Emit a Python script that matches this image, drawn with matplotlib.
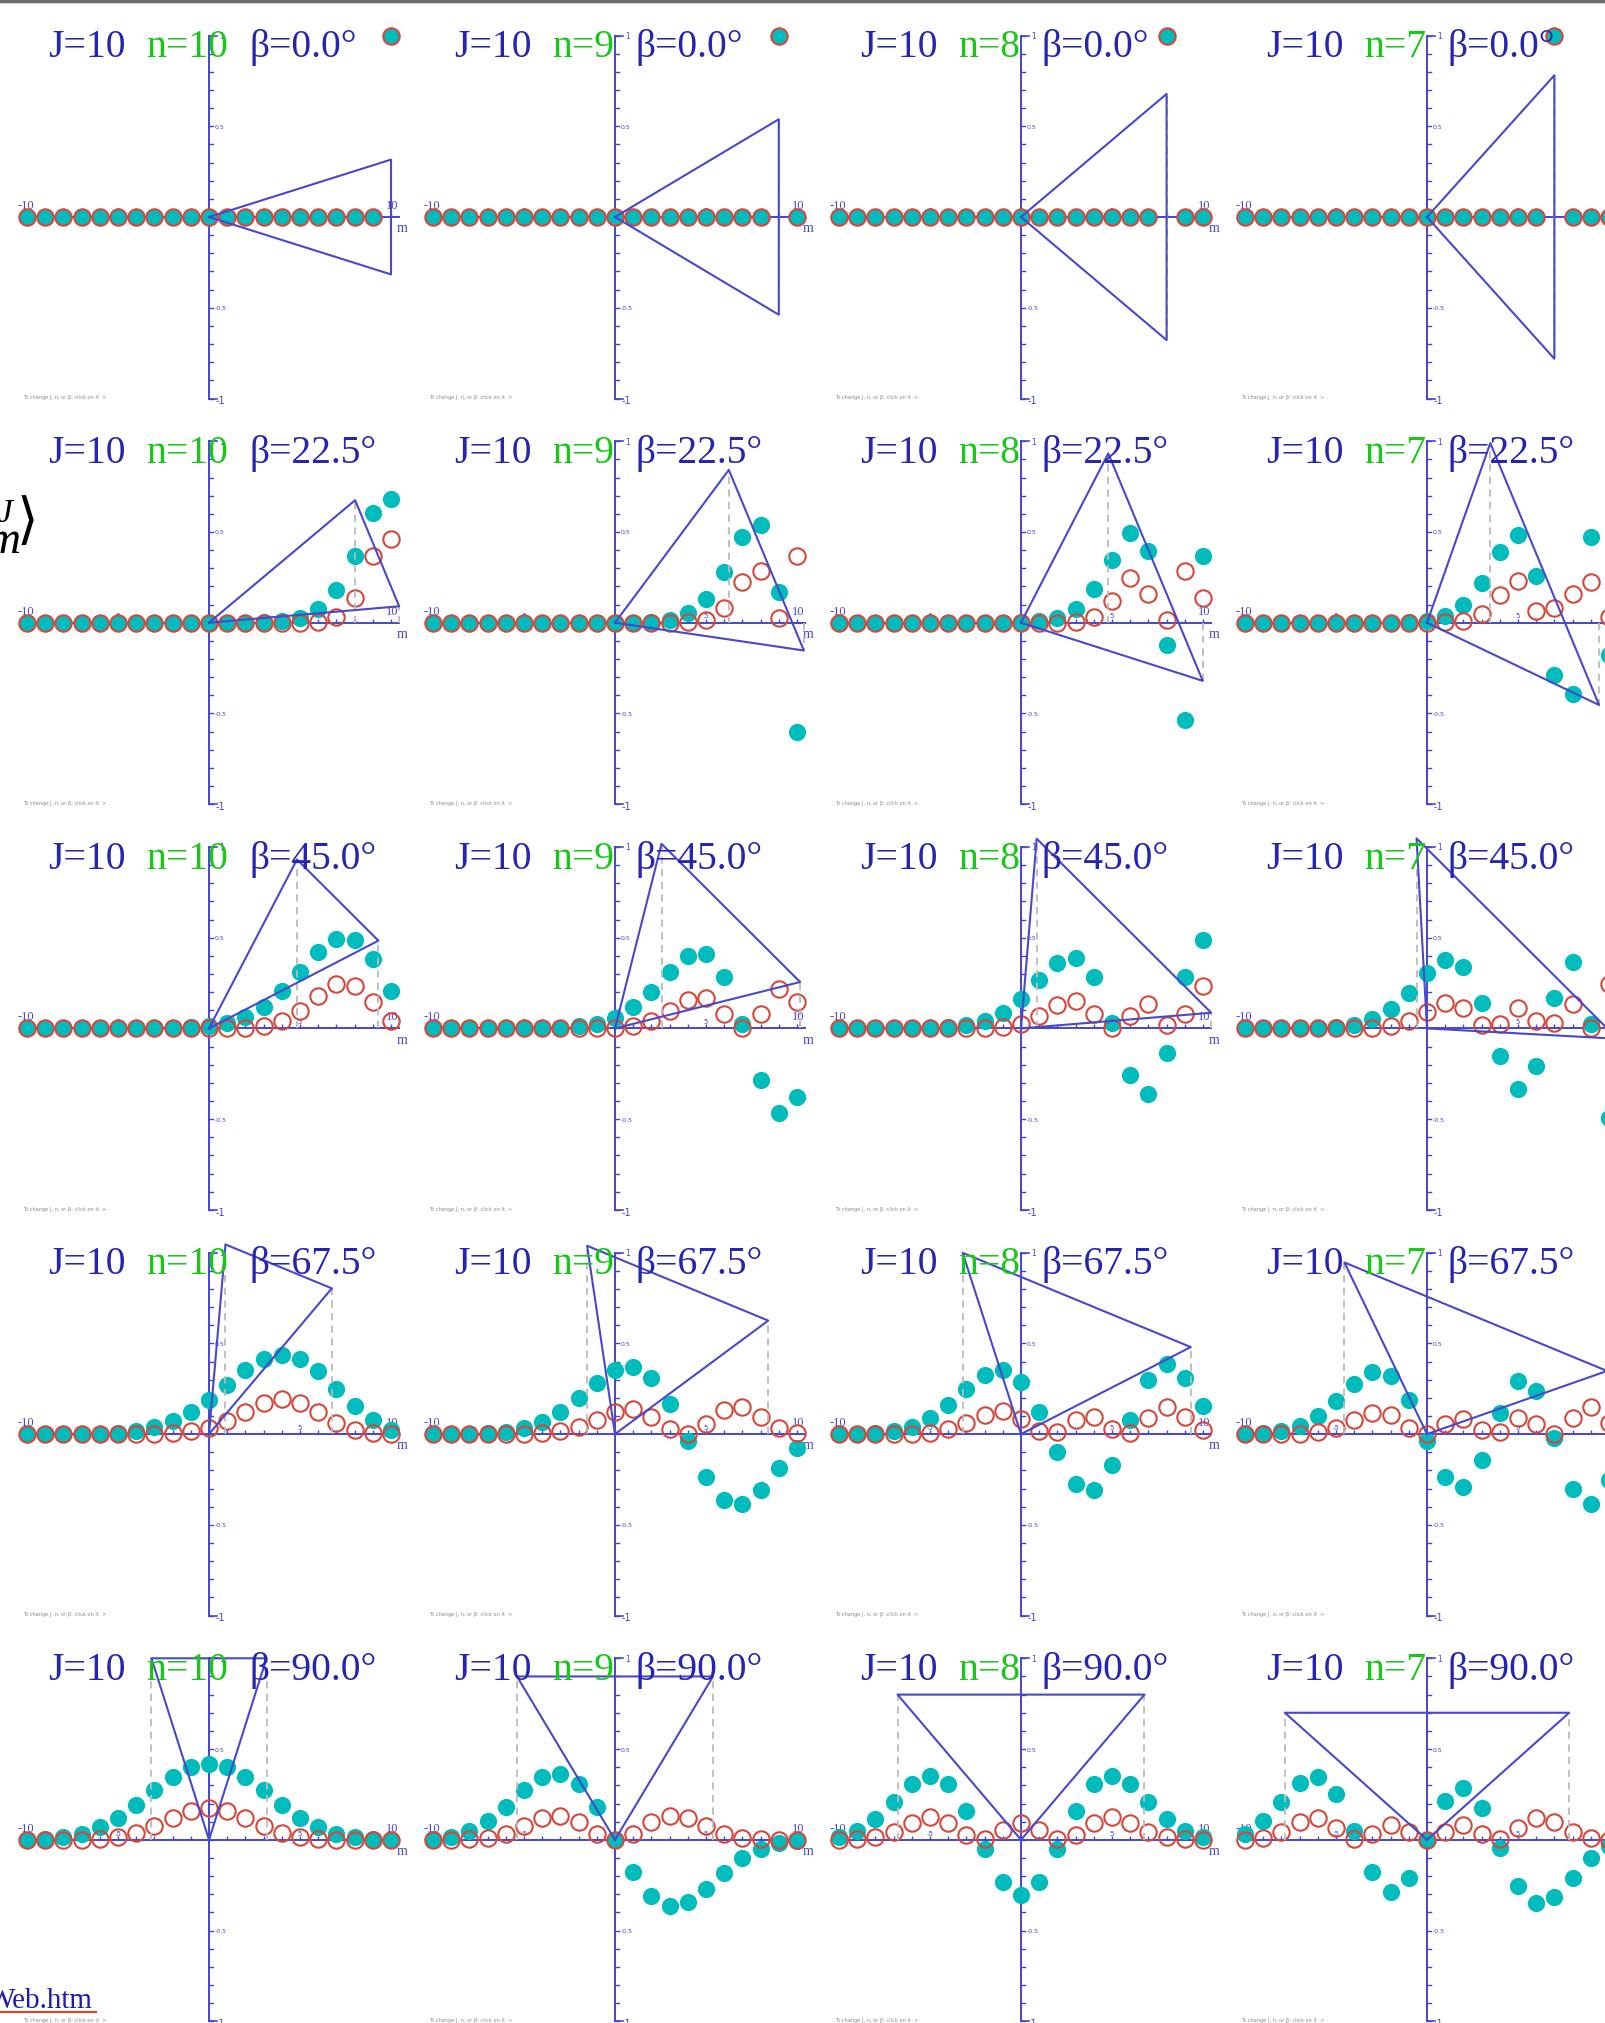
import numpy as np
import matplotlib.pyplot as plt
from matplotlib.lines import Line2D

J = 10
n_values = [10, 9, 8, 7]
beta_values = [0.0, 22.5, 45.0, 67.5, 90.0]
m_values = list(range(-10, 11))

# amplitudes (cyan dots) for m = -10 ... 10
amp_b0_n10 = [0, 0, 0, 0, 0, 0, 0, 0, 0, 0, 0, 0, 0, 0, 0, 0, 0, 0, 0, 0, 1]
amp_b0_n9 = [0, 0, 0, 0, 0, 0, 0, 0, 0, 0, 0, 0, 0, 0, 0, 0, 0, 0, 0, 1, 0]
amp_b0_n8 = [0, 0, 0, 0, 0, 0, 0, 0, 0, 0, 0, 0, 0, 0, 0, 0, 0, 0, 1, 0, 0]
amp_b0_n7 = [0, 0, 0, 0, 0, 0, 0, 0, 0, 0, 0, 0, 0, 0, 0, 0, 0, 1, 0, 0, 0]

amp_b22_n10 = [0, 0, 0, 0, 0, 0, 0, 0, 0, 0, 0, 0, 0.001, 0.002, 0.008, 0.026, 0.074, 0.180, 0.370, 0.604, 0.679]
amp_b22_n9 = [0, 0, 0, 0, 0, 0, 0, 0, 0, 0, 0, 0.001, 0.005, 0.017, 0.051, 0.130, 0.280, 0.472, 0.536, 0.168, -0.604]
amp_b22_n8 = [0, 0, 0, 0, 0, 0, 0, 0, 0, 0.001, 0.002, 0.008, 0.026, 0.075, 0.184, 0.347, 0.496, 0.395, -0.125, -0.536, 0.370]
amp_b22_n7 = [0, 0, 0, 0, 0, 0, 0, 0, 0.001, 0.003, 0.011, 0.035, 0.097, 0.220, 0.390, 0.481, 0.256, -0.286, -0.395, 0.472, -0.180]

amp_b45_n10 = [0, 0, 0, 0, 0, 0, 0, 0.001, 0.002, 0.005, 0.013, 0.030, 0.063, 0.120, 0.204, 0.312, 0.421, 0.493, 0.485, 0.380, 0.205]
amp_b45_n9 = [0, 0, 0, 0, 0, 0, 0.001, 0.004, 0.011, 0.026, 0.059, 0.116, 0.203, 0.308, 0.397, 0.408, 0.285, 0.022, -0.285, -0.464, -0.380]
amp_b45_n8 = [0, 0, 0, 0, 0, 0.002, 0.006, 0.016, 0.040, 0.086, 0.162, 0.264, 0.360, 0.388, 0.282, 0.029, -0.258, -0.364, -0.138, 0.285, 0.485]
amp_b45_n7 = [0, 0, 0, 0, 0.002, 0.007, 0.020, 0.050, 0.108, 0.197, 0.303, 0.375, 0.336, 0.139, -0.153, -0.335, -0.205, 0.170, 0.364, 0.022, -0.493]

amp_b67_n10 = [0, 0, 0, 0.001, 0.003, 0.007, 0.017, 0.037, 0.070, 0.121, 0.190, 0.271, 0.352, 0.413, 0.437, 0.414, 0.346, 0.251, 0.154, 0.075, 0.025]
amp_b67_n9 = [0, 0, 0.001, 0.005, 0.013, 0.031, 0.066, 0.122, 0.198, 0.283, 0.352, 0.371, 0.311, 0.165, -0.037, -0.235, -0.364, -0.386, -0.310, -0.187, -0.074]
amp_b67_n8 = [0, 0.001, 0.005, 0.017, 0.041, 0.087, 0.160, 0.249, 0.327, 0.354, 0.288, 0.122, -0.097, -0.274, -0.310, -0.172, 0.076, 0.300, 0.385, 0.310, 0.153]
amp_b67_n7 = [0.001, 0.005, 0.016, 0.045, 0.098, 0.181, 0.277, 0.342, 0.322, 0.186, -0.036, -0.238, -0.291, -0.144, 0.116, 0.295, 0.240, -0.024, -0.300, -0.386, -0.251]

amp_b90_n10 = [0.001, 0.004, 0.013, 0.033, 0.068, 0.122, 0.192, 0.272, 0.347, 0.400, 0.420, 0.400, 0.347, 0.272, 0.192, 0.122, 0.068, 0.033, 0.013, 0.004, 0.001]
amp_b90_n9 = [0.004, 0.018, 0.048, 0.103, 0.182, 0.272, 0.344, 0.365, 0.310, 0.179, 0.0, -0.179, -0.310, -0.365, -0.344, -0.272, -0.182, -0.103, -0.048, -0.018, -0.004]
amp_b90_n8 = [0.014, 0.048, 0.115, 0.211, 0.306, 0.353, 0.307, 0.158, -0.050, -0.232, -0.305, -0.232, -0.050, 0.158, 0.307, 0.353, 0.306, 0.211, 0.115, 0.048, 0.014]
amp_b90_n7 = [0.033, 0.103, 0.211, 0.314, 0.346, 0.252, 0.046, -0.177, -0.287, -0.213, 0.0, 0.213, 0.287, 0.177, -0.046, -0.252, -0.346, -0.314, -0.211, -0.103, -0.033]

amps = [
    [amp_b0_n10, amp_b0_n9, amp_b0_n8, amp_b0_n7],
    [amp_b22_n10, amp_b22_n9, amp_b22_n8, amp_b22_n7],
    [amp_b45_n10, amp_b45_n9, amp_b45_n8, amp_b45_n7],
    [amp_b67_n10, amp_b67_n9, amp_b67_n8, amp_b67_n7],
    [amp_b90_n10, amp_b90_n9, amp_b90_n8, amp_b90_n7],
]

W, H = 1605, 2024
fig = plt.figure(figsize=(W / 100, H / 100), dpi=100)

col_x = [209, 615, 1021, 1427]
row_y = [218 + 405.7 * r for r in range(5)]
SX, SY = 18.2, 181.5   # pixels per m step, pixels per unit amplitude

BLUE = '#2525b4'
GREEN = '#17c817'
AXBLUE = '#4444d4'
TRI = '#4848cc'
CYAN = '#00bcbc'
RED = '#d6473b'
SERIF = ['Liberation Serif', 'DejaVu Serif']


def draw_panel(ax, n, beta, amp):
    m = np.array(m_values)
    a = np.array(amp, dtype=float)

    # axes drawn by hand
    ax.plot([-10, 10.45], [0, 0], color=AXBLUE, lw=1.4, zorder=1, clip_on=False)
    ax.plot([0, 0], [-1, 1], color=AXBLUE, lw=1.4, zorder=1, clip_on=False)
    for v in np.arange(-10, 11) / 10:
        ax.plot([0, 0.22], [v, v], color=AXBLUE, lw=1.0, zorder=1, clip_on=False)
    ax.plot([0, 0.45], [1, 1], color=AXBLUE, lw=1.2, zorder=1, clip_on=False)
    ax.plot([0, 0.45], [-1, -1], color=AXBLUE, lw=1.2, zorder=1, clip_on=False)
    ax.vlines(m, 0, 0.022, color=AXBLUE, lw=1.0, zorder=1)
    ax.text(0.55, 1.0, "1", color=AXBLUE, fontsize=5.5, va='center', ha='left')
    ax.text(0.35, -1.01, "-1", color=AXBLUE, fontsize=7, va='center', ha='left')
    ax.text(0.3, 0.5, "0.5", color=AXBLUE, fontsize=4.5, va='center', ha='left')
    ax.text(0.3, -0.5, "-0.5", color=AXBLUE, fontsize=4.5, va='center', ha='left')
    ax.text(-10.05, 0.066, "-10", color=AXBLUE, fontsize=9, family=SERIF, ha='center', va='center')
    ax.text(10.05, 0.066, "10", color=AXBLUE, fontsize=9, family=SERIF, ha='center', va='center')
    ax.text(10.6, -0.06, "m", color=AXBLUE, fontsize=10, family=SERIF, ha='center', va='center')
    ax.text(5, 0.04, "5", color=AXBLUE, fontsize=5, ha='center', va='center')
    ax.text(-5, 0.04, "-5", color=AXBLUE, fontsize=5, ha='center', va='center')
    ax.text(-10.2, -0.99, "To change J, n, or \u03b2: click on it  >", color='#888888',
            fontsize=3.6, ha='left', va='center')

    # data: amplitude (filled) and probability (open rings)
    ax.plot(m, a, 'o', ms=12.4, color=CYAN, mec='none', zorder=3, clip_on=False)
    ax.plot(m, a ** 2, 'o', ms=11.8, mfc='none', mec=RED, mew=1.5, zorder=4, clip_on=False)

    # angular momentum cone
    b = np.radians(beta)
    L = np.sqrt(J * (J + 1) - n * n)
    cx, cy = n * np.cos(b), n * np.sin(b)
    px, py = -L * np.sin(b), L * np.cos(b)
    vx = [cx + px, cx - px]
    vy = [(cy + py) / J, (cy - py) / J]
    for x, y in zip(vx, vy):
        ax.plot([x, x], [0, y], color='#bbbbbb', lw=1.3, ls=(0, (4, 3)), zorder=5, clip_on=False)
    ax.plot([0, vx[0], vx[1], 0], [0, vy[0], vy[1], 0], color=TRI, lw=1.5, zorder=6,
            clip_on=False)

    # title
    fs = 28.5
    t1 = ax.text(-8.85, 0.885, f"J={J}", color=BLUE, fontsize=fs, family=SERIF,
                 ha='left', va='baseline', zorder=8)
    t2 = ax.annotate(f"n={n}", xy=(1, 0), xycoords=t1, xytext=(15, 0),
                     textcoords='offset points', color=GREEN, fontsize=fs, family=SERIF,
                     ha='left', va='bottom', zorder=8)
    ax.annotate(f"\u03b2={beta:.1f}\u00b0", xy=(1, 0), xycoords=t2, xytext=(15.5, 0),
                textcoords='offset points', color=BLUE, fontsize=fs, family=SERIF,
                ha='left', va='bottom', zorder=8)


for r, beta in enumerate(beta_values):
    for c, n in enumerate(n_values):
        x0, y0 = col_x[c], row_y[r]
        left, right = x0 - 205, x0 + 201
        top, bot = y0 - 210, y0 + 195.7
        ax = fig.add_axes([left / W, 1 - bot / H, (right - left) / W, (bot - top) / H])
        ax.set_xlim(-205 / SX, 201 / SX)
        ax.set_ylim(-195.7 / SY, 210 / SY)
        ax.axis('off')
        draw_panel(ax, n, beta, amps[r][c])

# page bits around the grid
fig.add_artist(Line2D([0, 1], [1 - 1.5 / H, 1 - 1.5 / H], color='#6a6a6a', lw=2.5))
fig.text(-2 / W, 1 - 522 / H, "J", fontsize=24, style='italic', family=SERIF, color='black',
         ha='left', va='baseline')
fig.text(20 / W, 1 - 553 / H, "m", fontsize=34, style='italic', family=SERIF, color='black',
         ha='right', va='baseline')
fig.text(17 / W, 1 - 523 / H, "\u27e9", fontsize=40, family=['DejaVu Sans'], color='black',
         ha='left', va='center')
fig.text(-12.5 / W, 1 - 2008 / H, "Web.htm", fontsize=21, family=SERIF, color='#1c1cb0',
         ha='left', va='baseline')
fig.add_artist(Line2D([0, 96 / W], [1 - 2013 / H, 1 - 2013 / H], color='#e0401e', lw=1.5))

fig.savefig('out.png', dpi=100)
